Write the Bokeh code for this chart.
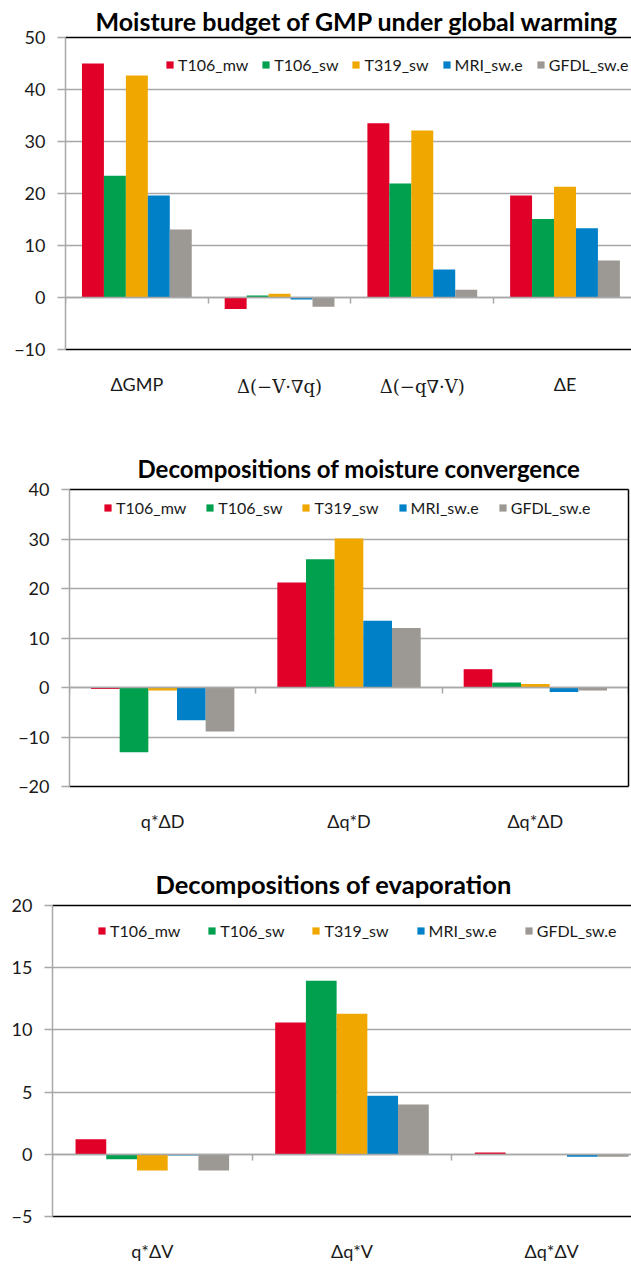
from bokeh.plotting import figure
from bokeh.models import (Range1d, LinearAxis, FixedTicker, Legend, LegendItem,
                          ColumnDataSource, Title, CustomLabelingPolicy)
from bokeh.embed import file_html
from bokeh.resources import INLINE

# ---------------- data ----------------
series = ["T106_mw", "T106_sw", "T319_sw", "MRI_sw.e", "GFDL_sw.e"]
colors = ["#E00028", "#00A04F", "#F0A800", "#0080C6", "#9C9893"]

# Chart 1: Moisture budget of GMP under global warming
cats1 = ["ΔGMP", "Δ(−V·∇q)", "Δ(−q∇·V)", "ΔE"]
serif_cats1 = [False, True, True, False]
t106_mw_1 = [45.0, -2.2, 33.5, 19.6]
t106_sw_1 = [23.4, 0.4, 21.9, 15.1]
t319_sw_1 = [42.7, 0.7, 32.1, 21.3]
mri_sw_1 = [19.6, -0.4, 5.4, 13.3]
gfdl_sw_1 = [13.1, -1.8, 1.5, 7.1]
yticks1 = [-10, 0, 10, 20, 30, 40, 50]

# Chart 2: Decompositions of moisture convergence
cats2 = ["q*ΔD", "Δq*D", "Δq*ΔD"]
t106_mw_2 = [-0.3, 21.2, 3.7]
t106_sw_2 = [-13.1, 25.9, 1.0]
t319_sw_2 = [-0.6, 30.1, 0.7]
mri_sw_2 = [-6.6, 13.5, -0.9]
gfdl_sw_2 = [-8.9, 12.0, -0.6]
yticks2 = [-20, -10, 0, 10, 20, 30, 40]

# Chart 3: Decompositions of evaporation
cats3 = ["q*ΔV", "Δq*V", "Δq*ΔV"]
t106_mw_3 = [1.2, 10.6, 0.15]
t106_sw_3 = [-0.4, 13.95, 0.02]
t319_sw_3 = [-1.3, 11.3, 0.02]
mri_sw_3 = [-0.1, 4.7, -0.2]
gfdl_sw_3 = [-1.3, 4.0, -0.2]
yticks3 = [-5, 0, 5, 10, 15, 20]

GRID = "#A8A8A8"
FONT = "Lato"
TXT = "#1a1a1a"

NO_LABELS = CustomLabelingPolicy(code="""
for (const i of Array.from(indices)) { indices.set(i, false) }
return indices
""")


def bare_axis(**kw):
    return LinearAxis(ticker=FixedTicker(ticks=[]), axis_line_color="black",
                      axis_line_width=1.5, major_tick_line_color=None,
                      minor_tick_line_color=None, major_label_standoff=0, **kw)


def make_chart(title, title_offset, title_size, title_standoff, cats, values, yticks,
               xend, width, height, mb_left, mb_top, mb_bottom, mb_right,
               legend_loc, legend_spacing, right_border=False, serif_flags=None):
    p = figure(width=width, height=height,
               x_range=Range1d(0, xend), y_range=Range1d(yticks[0], yticks[-1]),
               output_backend="svg", toolbar_location=None,
               x_axis_location=None,
               min_border_left=mb_left, min_border_top=mb_top,
               min_border_bottom=mb_bottom, min_border_right=mb_right,
               outline_line_color=None)

    # bars
    n = len(cats)
    bw = 1.0 / 6.5
    renderers = []
    for j, (name, vals) in enumerate(zip(series, values)):
        xs = [i + 0.5 + (j - 2) * bw for i in range(n)]
        src = ColumnDataSource(dict(x=xs, top=vals))
        r = p.vbar(x="x", top="top", bottom=0, width=bw, source=src,
                   fill_color=colors[j], line_color=None)
        renderers.append(r)

    # y axis & grid
    yax = p.yaxis[0]
    yax.ticker = FixedTicker(ticks=yticks)
    yax.axis_line_color = GRID
    yax.axis_line_width = 1.5
    yax.major_tick_line_color = GRID
    yax.major_tick_line_width = 1.5
    yax.major_tick_out = 8
    yax.major_tick_in = 0
    yax.minor_tick_line_color = None
    yax.major_label_text_font = FONT
    yax.major_label_text_font_size = "18px"
    yax.major_label_text_color = TXT
    yax.major_label_standoff = 12
    p.ygrid.ticker = FixedTicker(ticks=yticks)
    p.ygrid.grid_line_color = GRID
    p.ygrid.grid_line_width = 1.5
    p.xgrid.visible = False

    # top border line
    p.add_layout(bare_axis(), "above")
    if right_border:
        p.add_layout(bare_axis(), "right")

    # category label axes (bottom border)
    centers = [i + 0.5 for i in range(n)]
    if serif_flags is None:
        serif_flags = [False] * n
    sans_c = [c for c, s in zip(centers, serif_flags) if not s]
    sans_over = {c: lab for c, lab, s in zip(centers, cats, serif_flags) if not s}
    lab_ax = LinearAxis(ticker=FixedTicker(ticks=sans_c),
                        major_label_overrides=sans_over,
                        axis_line_color="black", axis_line_width=1.5,
                        major_tick_line_color=None, major_tick_out=0, major_tick_in=0,
                        minor_tick_line_color=None,
                        major_label_text_font=FONT, major_label_text_font_size="18px",
                        major_label_text_color=TXT,
                        major_label_standoff=23)
    p.add_layout(lab_ax, "below")

    if any(serif_flags):
        s_c = [c for c, s in zip(centers, serif_flags) if s]
        s_over = {c: lab for c, lab, s in zip(centers, cats, serif_flags) if s}
        s_ax = LinearAxis(ticker=FixedTicker(ticks=s_c),
                          major_label_overrides=s_over,
                          axis_line_color=None,
                          major_tick_line_color=None, major_tick_out=0, major_tick_in=0,
                          minor_tick_line_color=None,
                          major_label_text_font="DejaVu Serif",
                          major_label_text_font_size="18px",
                          major_label_text_color=TXT,
                          major_label_standoff=-22)
        p.add_layout(s_ax, "below")

    # zero axis with ticks at category boundaries
    zero_ax = LinearAxis(fixed_location=0,
                         ticker=FixedTicker(ticks=list(range(n + 1))),
                         axis_line_color=GRID, axis_line_width=1.5,
                         major_tick_line_color=GRID, major_tick_line_width=1.5,
                         major_tick_out=6, major_tick_in=0,
                         minor_tick_line_color=None,
                         major_label_policy=NO_LABELS)
    p.add_layout(zero_ax, "below")

    # legend
    items = [LegendItem(label=s, renderers=[r]) for s, r in zip(series, renderers)]
    leg = Legend(items=items, orientation="horizontal", location=legend_loc,
                 border_line_color=None, background_fill_alpha=0,
                 glyph_width=9, glyph_height=9, label_standoff=4,
                 spacing=legend_spacing, padding=0, margin=0,
                 label_text_font=FONT, label_text_font_size="16px",
                 label_text_color=TXT, label_height=16)
    p.add_layout(leg)

    # title
    p.title = Title(text=title, align="left", offset=title_offset,
                    text_font=FONT, text_font_size=title_size, text_font_style="bold",
                    text_color="black", standoff=title_standoff)
    return p


p1 = make_chart("Moisture budget of GMP under global warming", 30, "25px", 4, cats1,
                [t106_mw_1, t106_sw_1, t319_sw_1, mri_sw_1, gfdl_sw_1],
                yticks1, 3.966, 631, 430, 65, 37, 81, 0, (100, 275), 13,
                serif_flags=serif_cats1)
p2 = make_chart("Decompositions of moisture convergence", 68, "24px", 14, cats2,
                [t106_mw_2, t106_sw_2, t319_sw_2, mri_sw_2, gfdl_sw_2],
                yticks2, 3.0, 631, 422, 69, 59, 66, 3, (34, 269), 19,
                right_border=True)
p3 = make_chart("Decompositions of evaporation", 103, "25.5px", 14, cats3,
                [t106_mw_3, t106_sw_3, t319_sw_3, mri_sw_3, gfdl_sw_3],
                yticks3, 2.90, 631, 412, 52, 53, 47, 0, (45, 276), 27)

open("out.html", "w").write(file_html([p1, p2, p3], INLINE))
